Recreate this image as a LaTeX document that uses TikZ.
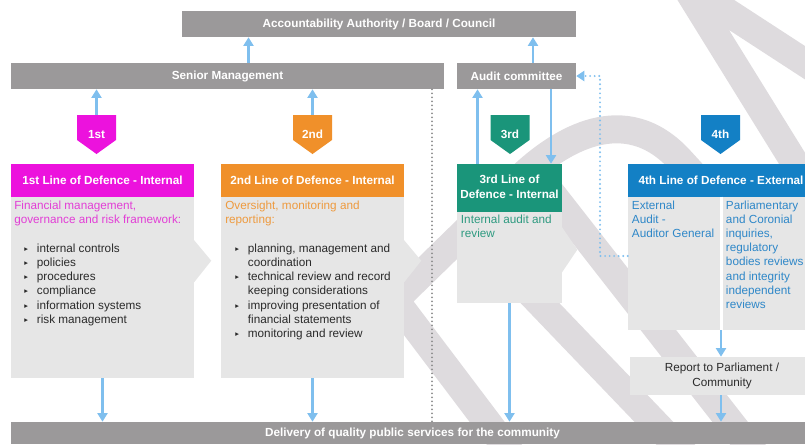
\documentclass[tikz,border=0pt]{standalone}
\usepackage{fontspec}
\setmainfont{Liberation Sans}
\newfontfamily\dv{DejaVu Sans}
\usetikzlibrary{arrows.meta,calc}
\definecolor{wm}{HTML}{DEDBDE}
\definecolor{bar}{HTML}{9B999A}
\definecolor{pk}{HTML}{EC12DD}
\definecolor{pkT}{HTML}{E23ED6}
\definecolor{og}{HTML}{F0902A}
\definecolor{ogT}{HTML}{EE9A3E}
\definecolor{gr}{HTML}{1A957A}
\definecolor{grT}{HTML}{2E9A80}
\definecolor{bl}{HTML}{1380C5}
\definecolor{blT}{HTML}{2E87C8}
\definecolor{bodyc}{HTML}{E6E6E6}
\definecolor{arrc}{HTML}{7FBFEE}
\definecolor{txt}{HTML}{2A2A2A}
\definecolor{sep}{HTML}{8C8C8C}
\newcommand\blt{\makebox[9.5pt][l]{\raisebox{0.8pt}{\dv\fontsize{5.5}{5.5}\selectfont ▸}}}
\newcommand\ind{\hspace*{9.5pt}}
\tikzset{
  fnt/.style={font=\fontsize{8.8}{10.65}\selectfont},
  bfnt/.style={font=\fontsize{8.8}{10.65}\selectfont\bfseries},
  sz/.style 2 args={minimum width=#1*0.75pt, minimum height=#2*0.75pt},
  barbox/.style={fill=bar, text=white, bfnt, inner sep=0pt},
  hdr/.style={fill=#1, text=white, bfnt, inner sep=0pt, align=center},
  bodybox/.style={fill=bodyc, inner sep=0pt},
  btxt/.style={fnt, inner sep=0pt, align=left, anchor=north west},
  badge/.style={sz={39}{39}, inner sep=0pt, bfnt, text=white,
    path picture={\fill[#1] (path picture bounding box.north west) -- (path picture bounding box.north east)
      -- ([yshift=10.5pt]path picture bounding box.south east) -- (path picture bounding box.south)
      -- ([yshift=10.5pt]path picture bounding box.south west) -- cycle;}},
  flow/.style={draw=arrc, line width=2pt, -{Triangle[width=7.5pt,length=6.5pt]}},
  bdot/.style={draw=arrc, line width=1.6pt, line cap=round, dash pattern=on 0pt off 3.4pt},
  gdot/.style={draw=sep, line width=1.5pt, line cap=round, dash pattern=on 0pt off 3pt},
  wmk/.style={draw=wm, line width=21pt},
}
\begin{document}
\begin{tikzpicture}[x=0.75pt,y=-0.75pt]
\useasboundingbox (0,0) rectangle (805,444);
\clip (0,0) rectangle (805,444);
% watermark
\draw[wmk, line join=miter, miter limit=20] (850,92) -- (684,-16) -- (982,465);
\draw[wmk, line join=round] (528,476) -- (395,300) -- (520,178) .. controls (560,140) and (625,100) .. (680,160) -- (900,400);
\draw[wmk] (531,167) -- (770,473);
\draw[wmk] (468,228) -- (700,470);
% helper coordinates
\coordinate (xa) at (248.5,0);
\coordinate (xb) at (533,0);
\coordinate (xc) at (477.5,0);
\coordinate (xd) at (551,0);
\coordinate (xe) at (721,0);
\coordinate (xf) at (600,0);
\coordinate (xs) at (432,0);
\coordinate (yd) at (0,256);
% top bars
\node[barbox, sz={394}{26}] (acc) at (379,24) {Accountability Authority / Board / Council};
\node[barbox, sz={433}{26}] (sm) at (227.5,76) {Senior Management};
\node[barbox, sz={119}{26}] (ac) at (516.5,76) {Audit committee};
% badges
\node[badge=pk] (g1) at (96.5,134.5) {1st};
\node[badge=og] (g2) at (312.5,134.5) {2nd};
\node[badge=gr] (g3) at (510,134.5) {3rd};
\node[badge=bl] (g4) at (720.5,134.5) {4th};
% 1st line
\node[hdr=pk, sz={183}{33}] (h1) at (102.5,180.5) {1st Line of Defence - Internal};
\node[bodybox, sz={183}{181}] (b1) at (102.5,287.5) {};
\fill[bodyc] ($(b1.north east)+(-0.5,43)$) -- ++(17.5,21) -- ++(-17.5,22) -- cycle;
\node[btxt, text=pkT] (t1) at (14,200.3) {Financial management,\\governance and risk framework:};
\node[btxt, text=txt] (l1) at (24,243.6) {\blt internal controls\\\blt policies\\\blt procedures\\\blt compliance\\\blt information systems\\\blt risk management};
% 2nd line
\node[hdr=og, sz={183}{33}] (h2) at (312.5,180.5) {2nd Line of Defence - Internal};
\node[bodybox, sz={183}{181}] (b2) at (312.5,287.5) {};
\fill[bodyc] ($(b2.north east)+(-0.5,43)$) -- ++(17.5,21) -- ++(-17.5,22) -- cycle;
\node[btxt, text=ogT] (t2) at (225,200.3) {Oversight, monitoring and\\reporting:};
\node[btxt, text=txt] (l2) at (235,243.6) {\blt planning, management and\\\ind coordination\\\blt technical review and record\\\ind keeping considerations\\\blt improving presentation of\\\ind financial statements\\\blt monitoring and review};
% 3rd line
\node[hdr=gr, sz={105}{48}] (h3) at (509.5,188) {};
\node[bfnt, text=white, align=center, inner sep=0pt] (h3t) at (509.5,186.8) {3rd Line of\\Defence - Internal};
\node[bodybox, sz={105}{91}] (b3) at (509.5,257.5) {};
\fill[bodyc] ($(b3.north east)+(-0.5,15)$) -- ++(15.5,23) -- ++(-15.5,23) -- cycle;
\node[btxt, text=grT] (t3) at (460.7,214.6) {Internal audit and\\review};
% 4th line
\node[hdr=bl, sz={186}{33}] (h4) at (721,180.5) {4th Line of Defence - External};
\node[bodybox, sz={186}{133}] (b4) at (721,263.5) {};
\draw[white, line width=2.25pt] (xe |- b4.north) -- (xe |- b4.south);
\node[btxt, text=blT] (t4a) at (631.7,200.3) {External\\Audit -\\Auditor General};
\node[btxt, text=blT] (t4b) at (725.7,200.3) {Parliamentary\\and Coronial\\inquiries,\\regulatory\\bodies reviews\\and integrity\\independent\\reviews};
% report and delivery
\node[bodybox, fnt, text=txt, align=center, sz={184}{38}] (rp) at (722,376) {Report to Parliament /\\Community};
\node[barbox, sz={803}{22}] (dl) at (412.5,433) {Delivery of quality public services for the community};
% separator
\draw[gdot] (xs |- sm.south) -- (xs |- dl.north);
% connectors
\draw[flow] (xa |- sm.north) -- (xa |- acc.south);
\draw[flow] (xb |- ac.north) -- (xb |- acc.south);
\draw[flow] (g1.north) -- (g1.north |- sm.south);
\draw[flow] (g2.north) -- (g2.north |- sm.south);
\draw[flow] (xc |- h3.north) -- (xc |- ac.south);
\draw[flow] (xd |- ac.south) -- (xd |- h3.north);
\draw[flow] (b1.south) -- (b1.south |- dl.north);
\draw[flow] (b2.south) -- (b2.south |- dl.north);
\draw[flow] (b3.south) -- (b3.south |- dl.north);
\draw[flow] (xe |- b4.south) -- (xe |- rp.north);
\draw[flow] (xe |- rp.south) -- (xe |- dl.north);
\draw[bdot, -{Triangle[width=7.5pt,length=6pt]}] (yd -| b4.west) -- (yd -| xf) -- (xf |- ac.east) -- (ac.east);
\end{tikzpicture}
\end{document}
